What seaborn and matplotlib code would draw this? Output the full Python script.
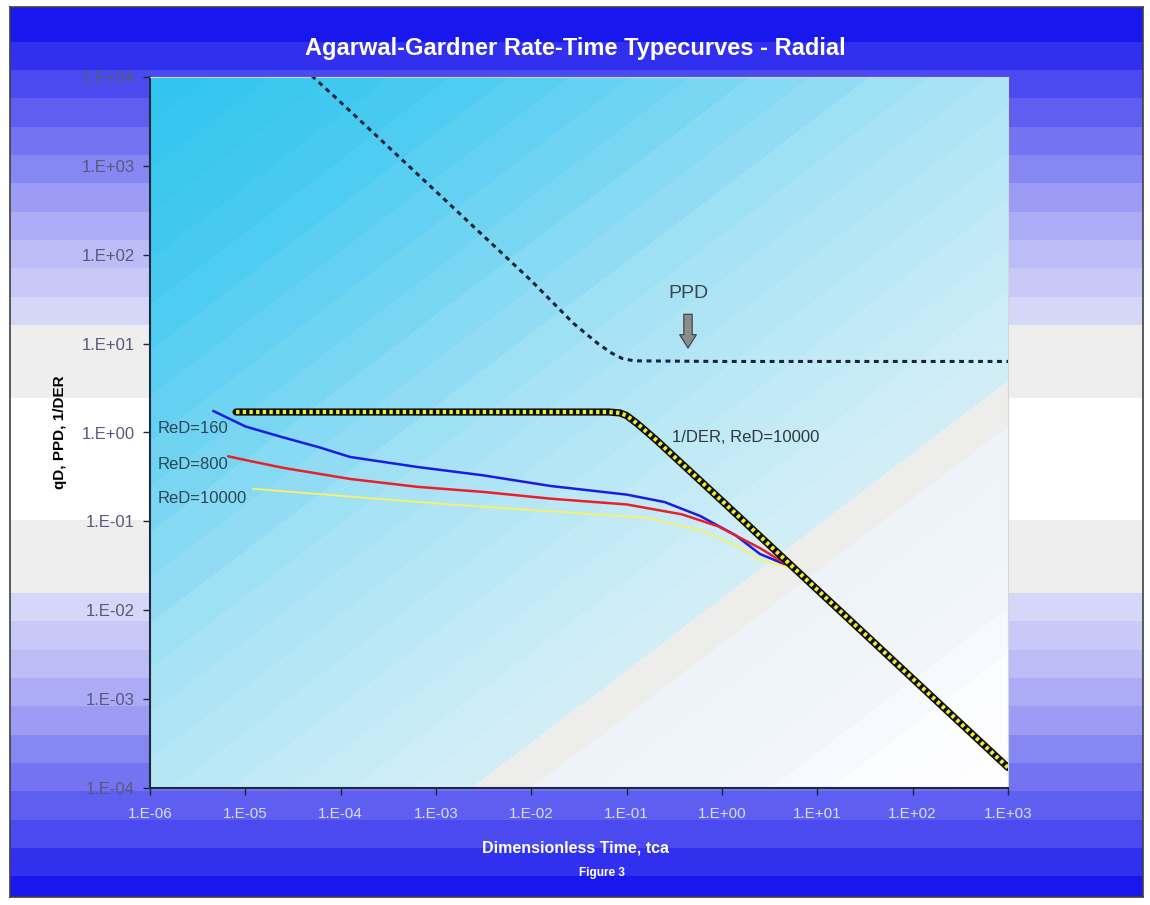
import numpy as np
import matplotlib
matplotlib.use("Agg")
import matplotlib.pyplot as plt
from matplotlib.colors import LinearSegmentedColormap
from matplotlib.ticker import FixedLocator, FuncFormatter, NullLocator
import seaborn as sns

# values (tca = dimensionless time)
tca_der = [8e-6, 1e-5, 1e-4, 1e-3, 1e-2, 0.065, 0.085, 0.1, 0.13, 0.2, 1.0, 10.0, 100.0, 1000.0]
der_inv = [1.7, 1.7, 1.7, 1.7, 1.7, 1.7, 1.66, 1.55, 1.25, 0.84, 0.17, 0.017, 0.0017, 0.00017]

tca_ppd = [3e-5, 1e-4, 1e-3, 1e-2, 2.75e-2, 5e-2, 7e-2, 9e-2, 0.12, 1.0, 10.0, 100.0, 1000.0, 1200.0]
ppd = [17000, 5200, 515, 51, 17, 10, 7.8, 6.8, 6.4, 6.3, 6.3, 6.3, 6.3, 6.3]

tca_160 = [4.6e-6, 1e-5, 2.5e-5, 6e-5, 1.26e-4, 6.3e-4, 3.1e-3, 1.6e-2, 0.1, 0.25, 0.59, 1.38, 2.5, 5.2]
qd_160 = [1.75, 1.17, 0.88, 0.68, 0.53, 0.41, 0.33, 0.25, 0.20, 0.165, 0.115, 0.07, 0.043, 0.031]

tca_800 = [6.6e-6, 1e-5, 2.5e-5, 1.26e-4, 6.3e-4, 3.2e-3, 1.6e-2, 0.1, 0.38, 0.91, 2.5, 5.2]
qd_800 = [0.54, 0.49, 0.40, 0.30, 0.245, 0.214, 0.18, 0.155, 0.12, 0.088, 0.050, 0.031]

tca_10000 = [1.2e-5, 1.26e-4, 1.4e-3, 1.6e-2, 0.16, 0.59, 1.4, 2.5, 5.2]
qd_10000 = [0.233, 0.19, 0.155, 0.13, 0.11, 0.08, 0.054, 0.037, 0.030]

xticks = [1e-6, 1e-5, 1e-4, 1e-3, 1e-2, 1e-1, 1e0, 1e1, 1e2, 1e3]
yticks = [1e-4, 1e-3, 1e-2, 1e-1, 1e0, 1e1, 1e2, 1e3, 1e4]

sns.set_style("ticks")
plt.rcParams['font.family'] = ['Liberation Sans', 'DejaVu Sans']

W, H = 1150, 905
fig = plt.figure(figsize=(W / 100, H / 100), dpi=100)
fig.patch.set_facecolor('white')

# outer banded frame (blue -> white -> blue)
fl, ft, fw, fh = 10, 7, 1133, 890
frame = fig.add_axes([fl / W, 1 - (ft + fh) / H, fw / W, fh / H], zorder=0)
d = np.abs(np.arange(fh) - 452) / 445.0
band_cmap = LinearSegmentedColormap.from_list(
    'bands', ['#d6d6f9', '#bcbcf7', '#9c9cf5', '#7474f2', '#4a4af0', '#1818ee'])
col = np.ones((fh, 3))
col[d >= 0.135] = [0.935, 0.935, 0.94]
m = d >= 0.30
q = np.clip(np.floor((d[m] - 0.30) / 0.70 * 11) / 10, 0, 1)
col[m] = band_cmap(q)[:, :3]
frame.imshow(np.repeat(col[:, None, :], 20, axis=1), aspect='auto', interpolation='nearest')
frame.set_xticks([])
frame.set_yticks([])
for s in frame.spines.values():
    s.set_color('#404040')
    s.set_linewidth(1.2)

# plot area
pl, pt, pr, pb = 150, 77, 1008, 788
ax = fig.add_axes([pl / W, 1 - pb / H, (pr - pl) / W, (pb - pt) / H], zorder=2)
ax.set_xscale('log')
ax.set_yscale('log')
ax.set_xlim(1e-6, 1e3)
ax.set_ylim(1e-4, 1e4)

# diagonal gradient fill of the plot area
pw, ph = pr - pl, pb - pt
xx, yy = np.meshgrid(np.arange(pw), np.arange(ph))
t = (0.76 * xx + yy) / (0.76 * pw + ph)
t = np.floor(t * 30) / 30
area_cmap = LinearSegmentedColormap.from_list('area', [
    (0.0, '#32c5ef'), (0.15, '#4acbf1'), (0.3, '#7ad7f3'), (0.42, '#a6e2f5'),
    (0.55, '#bee9f6'), (0.67, '#d2eff8'), (0.685, '#ecedec'), (0.72, '#efeeee'),
    (0.73, '#edf3f9'), (0.85, '#f3f7fc'), (0.9, '#fcfdff'), (1.0, '#ffffff')])
ax.imshow(area_cmap(t), extent=(0, 1, 0, 1), transform=ax.transAxes,
          aspect='auto', interpolation='nearest', zorder=0)
ax.set_xlim(1e-6, 1e3)
ax.set_ylim(1e-4, 1e4)

# curves
sns.lineplot(x=tca_ppd, y=ppd, ax=ax, color='#1a2438', linewidth=2.2,
             linestyle=(0, (1.6, 1.5)), estimator=None, sort=False, zorder=3)
sns.lineplot(x=tca_160, y=qd_160, ax=ax, color='#1c1ce0', linewidth=1.8,
             estimator=None, sort=False, zorder=3)
sns.lineplot(x=tca_800, y=qd_800, ax=ax, color='#e8202a', linewidth=1.8,
             estimator=None, sort=False, zorder=3)
sns.lineplot(x=tca_10000, y=qd_10000, ax=ax, color='#f4f070', linewidth=1.4,
             estimator=None, sort=False, zorder=3)
sns.lineplot(x=tca_der, y=der_inv, ax=ax, color='#101010', linewidth=5.2,
             estimator=None, sort=False, zorder=4)
sns.lineplot(x=tca_der, y=der_inv, ax=ax, color='#eeee30', linewidth=3.0,
             linestyle=(0, (0.8, 0.8)), estimator=None, sort=False, zorder=5)

# annotations
lab_col = '#2c4656'
ax.text(1.2e-6, 1.11, 'ReD=160', color=lab_col, fontsize=12, va='center', ha='left', zorder=6)
ax.text(1.2e-6, 0.44, 'ReD=800', color=lab_col, fontsize=12, va='center', ha='left', zorder=6)
ax.text(1.2e-6, 0.18, 'ReD=10000', color=lab_col, fontsize=12, va='center', ha='left', zorder=6)
ax.text(0.30, 0.88, '1/DER, ReD=10000', color='#30383e', fontsize=12, va='center', ha='left', zorder=6)
ax.text(0.44, 37, 'PPD', color='#3a4650', fontsize=14, va='center', ha='center', zorder=6)
ax.annotate('', xy=(0.44, 8.3), xytext=(0.44, 23),
            arrowprops=dict(arrowstyle='simple,head_length=0.8,head_width=1.0,tail_width=0.5',
                            fc='#8c8c8c', ec='#3a3a3a', lw=0.8, mutation_scale=12),
            zorder=6)

# axes styling
ax.xaxis.set_major_locator(FixedLocator(xticks))
ax.yaxis.set_major_locator(FixedLocator(yticks))
ax.xaxis.set_minor_locator(NullLocator())
ax.yaxis.set_minor_locator(NullLocator())
fmt = FuncFormatter(lambda v, p: '1.E%+03d' % round(np.log10(v)))
ax.xaxis.set_major_formatter(fmt)
ax.yaxis.set_major_formatter(fmt)
ax.tick_params(axis='y', length=5, width=1, color='#1e2a3c', labelsize=12,
               labelcolor='#58587c', pad=6)
ax.tick_params(axis='x', length=5, width=1, color='#1e2a3c', labelsize=11,
               labelcolor='#dcdcff', pad=9)
for side in ['left', 'bottom']:
    ax.spines[side].set_color('#1e2a3c')
    ax.spines[side].set_linewidth(1.5)
for side in ['top', 'right']:
    ax.spines[side].set_color('#cfd6de')
    ax.spines[side].set_linewidth(0.8)
ax.set_xlabel('')
ax.set_ylabel('')

fig.text(575 / W, 1 - 48 / H, 'Agarwal-Gardner Rate-Time Typecurves - Radial',
         color='white', fontsize=17, fontweight='bold', ha='center', va='center')
fig.text(575 / W, 1 - 848 / H, 'Dimensionless Time, tca', color='white',
         fontsize=11.5, fontweight='bold', ha='center', va='center')
fig.text(602 / W, 1 - 873 / H, 'Figure 3', color='white', fontsize=8.5,
         fontweight='bold', ha='center', va='center')
fig.text(60 / W, 1 - 432 / H, 'qD, PPD, 1/DER', color='black', fontsize=11,
         fontweight='bold', rotation=90, ha='center', va='center')

fig.savefig('out.png', dpi=100, facecolor=fig.get_facecolor())
